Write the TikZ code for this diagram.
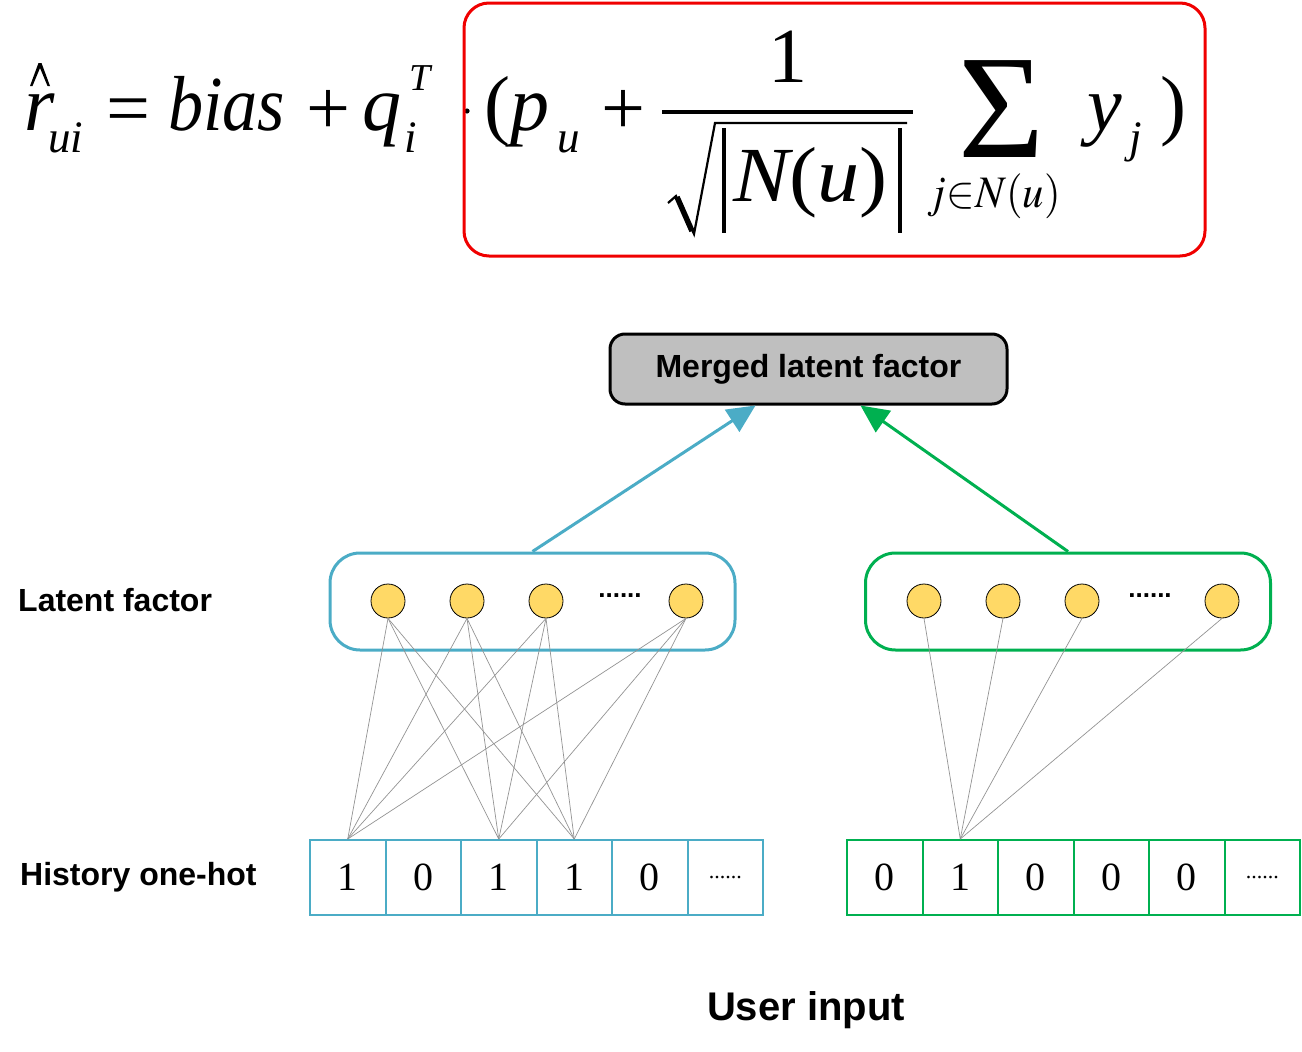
\documentclass[tikz,border=0pt]{standalone}
\usepackage{mathptmx}
\usepackage[no-math]{fontspec}
\setmainfont{Liberation Serif}
\setsansfont{Liberation Sans}
\usetikzlibrary{arrows.meta,calc}
\definecolor{cblue}{RGB}{75,172,198}
\definecolor{cgreen}{RGB}{0,176,80}
\definecolor{cyel}{RGB}{255,217,102}
\definecolor{cgray}{RGB}{191,191,191}
\definecolor{cred}{RGB}{240,0,0}
\begin{document}
\begin{tikzpicture}[x=1pt,y=-1pt,
  latbox/.style={draw, line width=3pt, rounded corners=30pt, minimum width=405pt, minimum height=97pt, inner sep=0pt},
  unit/.style={circle, draw=black, line width=0.8pt, fill=cyel, minimum size=34pt, inner sep=0pt},
  cell/.style={draw, line width=2pt, minimum width=75.5pt, minimum height=75pt, inner sep=0pt, font=\fontsize{40}{40}\selectfont},
  celldots/.style={font=\fontsize{22}{22}\selectfont},
  link/.style={draw=gray!85, line width=0.7pt},
  lbl/.style={font=\sffamily\bfseries\fontsize{32}{36}\selectfont, anchor=west, inner sep=0pt},
  udots/.style={font=\sffamily\bfseries\fontsize{26}{26}\selectfont, inner sep=0pt},
  arr/.style={line width=3pt, -{Triangle[length=28pt,width=26pt]}},
  eq/.style={anchor=base west, inner sep=0pt, font=\fontsize{78}{80}\selectfont},
  eqi/.style={eq, font=\fontsize{78}{80}\selectfont\itshape},
  eqs/.style={anchor=base west, inner sep=0pt, font=\fontsize{45}{48}\selectfont\itshape},
  eqline/.style={line width=3.5pt}
]
\useasboundingbox (0,0) rectangle (1302,1052);

% ---------- formula ----------
\node[eqi] (fr) at (24,130) {r};
\fill (30,86) -- (38.5,63) -- (41.5,63) -- (50,86) -- (47.5,86) -- (40,68) -- (32.5,86) -- cycle;
\node[eqs] (fui) at (48,152) {ui};
\node[eq] (feq) at (106,134) {=};
\node[eqi] (fbias) at (168,130) {\scalebox{0.9}[1]{bias}};
\node[eq] (fplus1) at (306,134) {+};
\node[eqi] (fq) at (362,130) {q};
\node[eqs] (fi) at (404,152) {i};
\node[anchor=base west, inner sep=0pt, font=\fontsize{38}{40}\selectfont\itshape] (fT) at (409,90) {T};
\fill (467,111) circle (2.6pt);
\node[eq] (flp) at (484,130) {(};
\node[eqi] (fp) at (510,130) {p};
\node[eqs] (fpu) at (557,152) {u};
\node[eq] (fplus2) at (601,134) {+};
\node[eq] (fone) at (768,82) {1};
\draw[line width=4pt] (662,112) -- (913,112);
\draw[line width=2.2pt, line join=miter] (668,203) -- (676,196) -- (694,234) -- (715,123) -- (907,123);
\draw[line width=5.5pt] (677,197) -- (692,231);
\draw[eqline] (724,128) -- (724,233);
\draw[eqline] (900,128) -- (900,233);
\node[eq] (fN) at (733,201) {\scalebox{1.08}[1]{\itshape N\upshape(\itshape u\upshape)}};
\node[anchor=base west, inner sep=0pt, font=\fontsize{148}{148}\selectfont] (fsum) at (958,157) {Σ};
\node[eqs] (fsub) at (927,207) {\scalebox{0.95}[1]{$\fontsize{45}{48}\selectfont j{\in}N(u)$}};
\node[eqi] (fy) at (1087,130) {y};
\node[eqs] (fj) at (1129,152) {j};
\node[eq] (frp) at (1160,130) {)};
\node[draw=cred, line width=3pt, rounded corners=25pt, minimum width=741pt, minimum height=253pt, inner sep=0pt] (rb) at (834.5,129.5) {};

% ---------- merged ----------
\node[draw, fill=cgray, line width=3pt, rounded corners=15pt, minimum width=397pt, minimum height=70pt, inner sep=0pt,
  font=\sffamily\bfseries\fontsize{32}{36}\selectfont] (merged) at (808.5,369) {Merged latent factor};

% ---------- latent boxes ----------
\node[latbox, draw=cblue] (latL) at (532.5,601.5) {};
\node[latbox, draw=cgreen] (latR) at (1068,601.5) {};

\foreach \i/\x in {1/388,2/467,3/546,4/686} {
  \node[unit] (cL\i) at (\x,601) {};
}
\foreach \i/\x in {1/924,2/1003,3/1082,4/1222} {
  \node[unit] (cR\i) at (\x,601) {};
}
\node[udots] (dL) at (620,596) {......};
\node[udots] (dR) at (1150,596) {......};

% ---------- arrows ----------
\draw[arr, cblue] (latL.north) -- ([xshift=-53pt]merged.south);
\draw[arr, cgreen] (latR.north) -- ([xshift=52pt]merged.south);

% ---------- one-hot cells ----------
\foreach \i/\v in {1/1,2/0,3/1,4/1,5/0} {
  \node[cell, draw=cblue] (hL\i) at ({310+75.5*(\i-0.5)},877.5) {\v};
}
\node[cell, draw=cblue, celldots] (hL6) at ({310+75.5*5.5},877.5) {......};
\foreach \i/\v in {1/0,2/1,3/0,4/0,5/0} {
  \node[cell, draw=cgreen] (hR\i) at ({847+75.5*(\i-0.5)},877.5) {\v};
}
\node[cell, draw=cgreen, celldots] (hR6) at ({847+75.5*5.5},877.5) {......};

% ---------- links ----------
\foreach \c in {1,2,3,4} {
  \foreach \h in {1,3,4} {
    \draw[link] (cL\c.south) -- (hL\h.north);
  }
  \draw[link] (cR\c.south) -- (hR2.north);
}

% ---------- labels ----------
\node[lbl] (tLat) at (18,600) {Latent factor};
\node[lbl] (tHist) at (20,877) {History one-hot};
\node[font=\sffamily\bfseries\fontsize{40}{44}\selectfont, inner sep=0pt] (tUser) at (806,1010) {User input};
\end{tikzpicture}
\end{document}
